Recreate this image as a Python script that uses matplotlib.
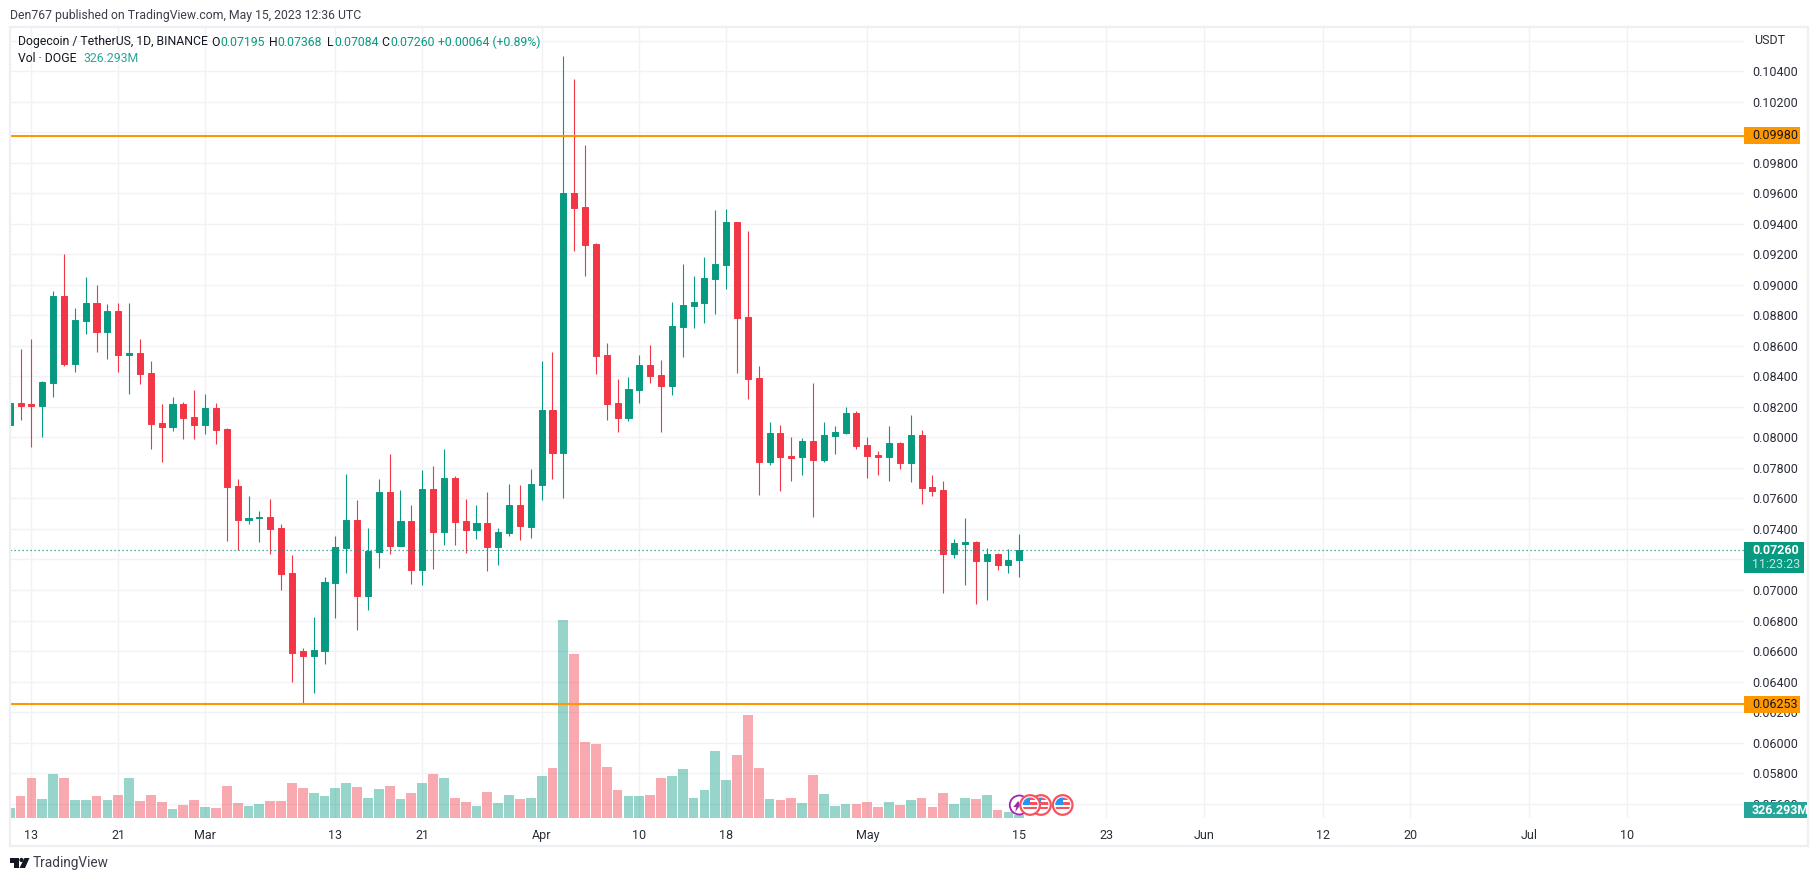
import numpy as np
import matplotlib
matplotlib.use('Agg')
import matplotlib.pyplot as plt
from matplotlib.patches import Rectangle, Circle, Polygon

# daily candles in 1e-5 USDT, first one is Feb 11
opens = [8082,8226,8220,8206,8357,8928,8482,8764,8882,8692,
         8829,8541,8554,8423,8095,8069,8220,8134,8082,8193,
         8056,7682,7459,7472,7479,7406,7111,6600,6567,6600,
         7046,7275,7459,6961,7249,7643,7289,7452,7131,7662,
         7380,7734,7452,7393,7439,7282,7374,7557,7413,7688,
         8180,7898,9603,9511,9269,8541,8226,8128,8311,8475,
         8410,8338,8725,8862,8882,9039,9131,9413,8790,8390,
         7839,8029,7879,7872,7977,7852,8010,8029,8161,7951,
         7885,7872,7964,7833,8016,7675,7656,7236,7302,7315,
         7190,7236,7164,7195]
highs = [8226,8580,8646,8370,8961,9203,8849,9052,9000,8875,
         8882,8882,8646,8502,8220,8265,8233,8311,8285,8226,
         8062,7728,7616,7518,7597,7433,7229,6620,6823,7085,
         7354,7761,7590,7406,7728,7892,7656,7557,7787,7813,
         7925,7747,7597,7557,7643,7406,7695,7688,7793,8502,
         8561,10502,10351,9918,9275,8620,8383,8397,8541,8606,
         8508,8888,9138,9059,9184,9492,9498,9413,9354,8469,
         8102,8082,8003,7997,8357,8102,8075,8200,8174,8003,
         7911,8075,7970,8147,8049,7754,7715,7334,7472,7321,
         7275,7243,7269,7368]
lows = [8082,8115,7940,8003,8265,8469,8429,8679,8561,8515,
        8429,8285,8351,7925,7839,8043,7990,7990,8023,7957,
        7321,7262,7433,7315,7236,7000,6397,6252,6324,6515,
        6816,7111,6738,6869,7144,7236,7289,7039,7033,7138,
        7295,7295,7243,7334,7125,7164,7354,7328,7341,7590,
        7728,7603,9223,9059,8416,8115,8036,8108,8226,8357,
        8036,8279,8528,8718,8751,8810,8974,8423,8252,7623,
        7820,7649,7715,7754,7479,7839,7892,8023,7925,7734,
        7754,7715,7793,7708,7564,7616,6980,7210,7033,6908,
        6934,7131,7111,7084]
closes = [8226,8206,8206,8364,8928,8482,8770,8882,8692,8829,
          8541,8554,8416,8088,8069,8220,8128,8082,8193,8049,
          7675,7459,7472,7479,7400,7105,6587,6567,6606,7052,
          7282,7459,6961,7258,7643,7289,7452,7131,7662,7380,
          7734,7446,7393,7439,7282,7380,7557,7420,7695,8180,
          7898,9603,9505,9262,8534,8220,8128,8318,8475,8403,
          8338,8731,8869,8888,9046,9138,9413,8784,8383,7839,
          8029,7872,7866,7977,7852,8016,8036,8161,7944,7879,
          7872,7964,7833,8016,7669,7649,7236,7308,7315,7190,
          7236,7164,7197,7260]

# volume in millions of DOGE
volumes = [1000,2200,4000,1900,4400,4000,1800,1800,2200,1800,
           2300,4000,1700,2300,1600,900,1300,1800,1100,1000,
           3200,1500,1200,1400,1700,1700,3500,3000,2500,2200,
           3000,3500,3100,2000,2900,3200,1900,2500,3500,4400,
           4000,2000,1600,1200,2600,1500,2300,1900,2000,4200,
           5000,19800,16400,7600,7400,5100,2800,2200,2200,2300,
           4000,4200,4900,2000,2800,6700,3800,6300,10300,5000,
           1900,1800,2000,1500,4300,2400,1200,1400,1400,1600,
           1100,1600,1300,1800,2000,1100,2500,1400,2000,1900,
           2300,800,600,326.293]

# day 0 is Feb 13
date_ticks = [0, 8, 16, 28, 36, 47, 56, 64, 77, 91, 99, 108, 119, 127, 138, 147]
date_labels = ['13', '21', 'Mar', '13', '21', 'Apr', '10', '18', 'May', '15', '23', 'Jun', '12', '20', 'Jul', '10']
price_ticks = [0.056, 0.058, 0.060, 0.062, 0.064, 0.066, 0.068, 0.070, 0.072, 0.074, 0.076, 0.078, 0.080,
               0.082, 0.084, 0.086, 0.088, 0.090, 0.092, 0.094, 0.096, 0.098, 0.100, 0.102, 0.104, 0.106]
# gridline but no label: 0.072 and 0.100 sit behind the tags, 0.106 is where USDT goes
hidden_ticks = [0.072, 0.100, 0.106]
levels = [0.09980, 0.06253]
last_price = 0.07260
event_days = [95, 93, 92]

GREEN = '#089981'
RED = '#f23645'
ORANGE = '#ff9800'
GRID = '#f1f2f5'
TEXT = '#131722'
FONT = 'Roboto'

plt.rcParams['font.family'] = FONT

days = np.arange(len(opens)) - 2
o = np.array(opens) / 1e5
h = np.array(highs) / 1e5
l = np.array(lows) / 1e5
c = np.array(closes) / 1e5
colors = [GREEN if a >= b else RED for a, b in zip(c, o)]

W, H = 1818, 881
fig = plt.figure(figsize=(W / 100, H / 100), dpi=100, facecolor='white')

# pane runs from x 10 to 1744 and y 28 to 818 in pixels
pos = [10 / W, 1 - 818 / H, 1734 / W, 790 / H]
ax = fig.add_axes(pos, zorder=1)
ax_vol = fig.add_axes(pos, zorder=2, sharex=ax)
ax_vol.patch.set_alpha(0)

ax.set_xlim(-1.971, 157.76)
ax.set_ylim(0.05505, 0.10685)

# price pane
ax.set_xticks(date_ticks)
ax.set_yticks(price_ticks)
ax.grid(True, color=GRID, lw=1)
ax.set_axisbelow(True)
ax.vlines(days, l, h, colors=colors, lw=0.8, zorder=3)
ax.bar(days, np.abs(c - o), bottom=np.minimum(o, c), width=0.56, color=colors, edgecolor=colors, lw=0.7, zorder=4)
ax.axhline(last_price, color=GREEN, lw=0.9, ls=(0, (1, 2.2)), zorder=5)

# volume pane
ax_vol.bar(days, volumes, width=0.9, color=colors, alpha=0.42, lw=0)
for lev in levels:
    ax_vol.plot([-1.971, 157.76], [lev, lev], color=ORANGE, lw=1.5, transform=ax.transData, solid_capstyle='butt')
ax_vol.set_ylim(0, 79000)
ax_vol.set_xlim(-1.971, 157.76)

for a in [ax, ax_vol]:
    for s in a.spines.values():
        s.set_visible(False)
ax_vol.tick_params(left=False, labelleft=False, bottom=False, labelbottom=False)

ax.yaxis.tick_right()
ax.tick_params(axis='y', length=0, pad=6, labelsize=9, labelcolor='#2a2e39')
ax.set_yticklabels(['' if t in hidden_ticks else '%.5f' % t for t in price_ticks])
ax.tick_params(axis='x', length=0, pad=8, labelsize=9, labelcolor='#2a2e39')
ax.set_xticklabels(date_labels)

# overlay in pixel coords for frame, labels and icons
ov = fig.add_axes([0, 0, 1, 1], zorder=5)
ov.set_xlim(0, W)
ov.set_ylim(H, 0)
ov.axis('off')
ov.patch.set_alpha(0)

ov.add_patch(Rectangle((9.5, 27), 1798, 819, fill=False, ec='#eeeff5', lw=1.6))

# header texts
ov.text(10, 15, 'Den767 published on TradingView.com, May 15, 2023 12:36 UTC', fontsize=8.8, color='#3b3f4a', va='center')
ov.text(18, 42, 'Dogecoin / TetherUS, 1D, BINANCE', fontsize=8.8, color=TEXT, va='center')
legend_items = [(211.5, 'O', 220, '0.07195'), (269, 'H', 277, '0.07368'), (327, 'L', 334, '0.07084'), (381.5, 'C', 390, '0.07260')]
for x1, name, x2, val in legend_items:
    ov.text(x1, 42, name, fontsize=8.8, color=TEXT, va='center')
    ov.text(x2, 42, val, fontsize=8.8, color=GREEN, va='center')
ov.text(438, 42, '+0.00064 (+0.89%)', fontsize=8.8, color=GREEN, va='center')
ov.text(18, 59, 'Vol · DOGE', fontsize=8.8, color=TEXT, va='center')
ov.text(83.5, 59, '326.293M', fontsize=8.8, color='#26a69a', va='center')
ov.text(1754, 41, 'USDT', fontsize=9, color='#2a2e39', va='center')

# price axis tags
for lev, (y0, y1) in zip(levels, [(127, 144), (696, 713)]):
    ov.add_patch(Rectangle((1744, y0), 56, y1 - y0, color=ORANGE, lw=0))
    ov.text(1752, (y0 + y1) / 2, '%.5f' % lev, fontsize=9, color=TEXT, va='center')
ov.add_patch(Rectangle((1744, 542), 60, 31, color=GREEN, lw=0))
ov.text(1752, 550, '0.07260', fontsize=9, color='white', fontweight='bold', va='center')
ov.text(1752, 565, '11:23:23', fontsize=9, color='#c5e6e0', va='center')
ov.add_patch(Rectangle((1744, 802), 63, 16, color='#26a69a', lw=0))
ov.text(1752, 810, '326.293M', fontsize=9, color='white', fontweight='bold', va='center')

# event icons along the bottom, day -> pixel same as the price pane
px_per_day = 1734 / (157.76 + 1.971)
icon_y = 805
purple_x = 10 + (91 + 1.971) * px_per_day
ov.add_patch(Circle((purple_x, icon_y), 9.5, fc='white', ec='#9c27b0', lw=1.3))
ov.add_patch(Polygon([(purple_x - 1, icon_y - 4), (purple_x - 6, icon_y + 2), (purple_x - 3, icon_y + 2),
                      (purple_x - 4, icon_y + 7), (purple_x + 1, icon_y)], color='#9c27b0', lw=0))
for d in event_days:
    cx = 10 + (d + 1.971) * px_per_day
    ring = Circle((cx, icon_y), 9.8, fc='white', ec='#f7525f', lw=1.6)
    ov.add_patch(ring)
    clip = Circle((cx, icon_y), 7.5, transform=ov.transData)
    parts = [Rectangle((cx - 8, icon_y - 8), 8, 7.5, color='#2196f3', lw=0),
             Rectangle((cx, icon_y - 8), 8, 2.5, color='#f7525f', lw=0),
             Rectangle((cx, icon_y - 3), 8, 2.5, color='#f7525f', lw=0),
             Rectangle((cx - 8, icon_y + 1.5), 16, 2.5, color='#f7525f', lw=0)]
    for p in parts:
        ov.add_patch(p)
        p.set_clip_path(clip)

# TradingView logo
ov.add_patch(Polygon([(10, 858), (19, 858), (19, 868), (14, 868), (14, 862.5), (10, 862.5)], color='#131722', lw=0))
ov.add_patch(Circle((21.5, 860), 2.1, color='#131722', lw=0))
ov.add_patch(Polygon([(24.5, 858), (29.5, 858), (25, 868), (19.5, 868)], color='#131722', lw=0))
ov.text(33, 863, 'TradingView', fontsize=9.8, color='#3b3f4a', va='center')

fig.savefig('out.png', dpi=100)
